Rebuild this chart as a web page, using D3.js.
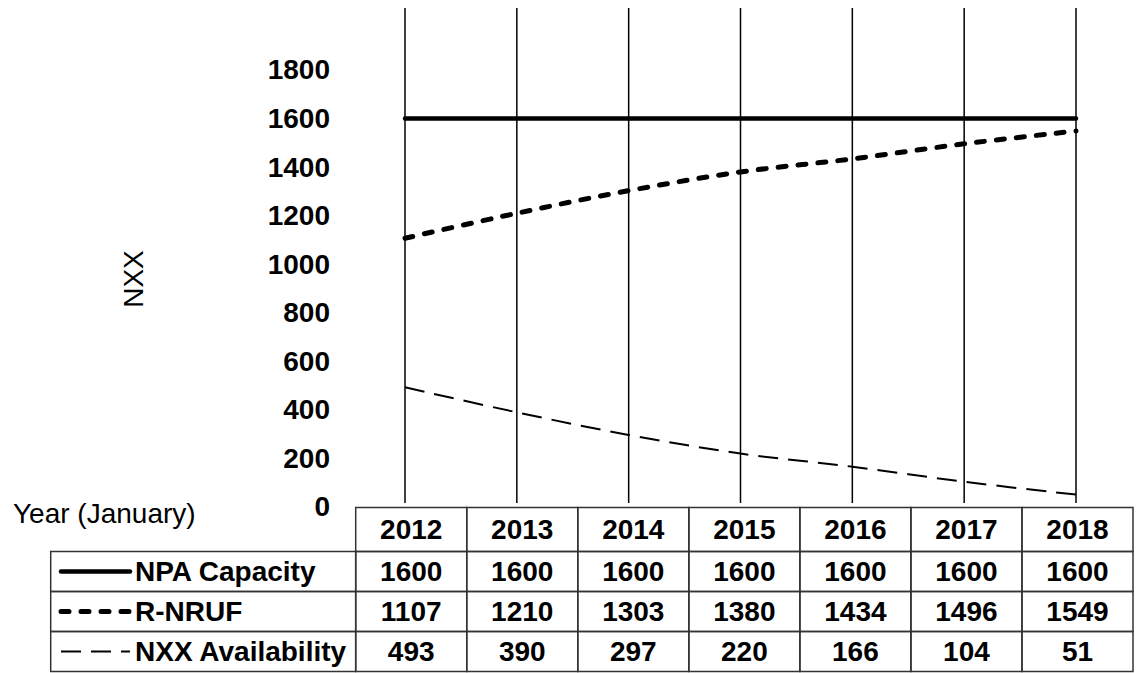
<!DOCTYPE html>
<html>
<head>
<meta charset="utf-8">
<script src="https://cdn.jsdelivr.net/npm/d3@7"></script>
<style>
  body { margin: 0; background: #fff; }
  text { font-family: "Liberation Sans", Arial, sans-serif; fill: #000; }
</style>
</head>
<body>
<div id="chart"></div>
<script>
const years = [2012, 2013, 2014, 2015, 2016, 2017, 2018];
const npaCapacity = [1600, 1600, 1600, 1600, 1600, 1600, 1600];
const rNruf = [1107, 1210, 1303, 1380, 1434, 1496, 1549];
const nxxAvailability = [493, 390, 297, 220, 166, 104, 51];
const yTicks = [0, 200, 400, 600, 800, 1000, 1200, 1400, 1600, 1800];
const seriesNames = ['NPA Capacity', 'R-NRUF', 'NXX Availability'];

const width = 1136;
const height = 673;
const fontSize = '28px';

const series = [
  { name: seriesNames[0], values: npaCapacity, width: 4.5, dash: null, cap: 'round' },
  { name: seriesNames[1], values: rNruf, width: 5, dash: '8,12', cap: 'round' },
  { name: seriesNames[2], values: nxxAvailability, width: 2, dash: '20,10', cap: 'butt' }
];

const svg = d3.select('#chart')
  .append('svg')
  .attr('width', width)
  .attr('height', height);

const x = d3.scalePoint().domain(years).range([405, 1076]);
const y = d3.scaleLinear().domain([0, 1800]).range([507, 70]);

// table columns
const col = d3.scaleBand().domain(years).range([355.7, 1133]);
const headerTop = 507.5;
const headerH = 44;
const rowH = 40;
const legendLeft = 50.7;

// vertical grid lines per year
svg.append('g')
  .selectAll('line')
  .data(years)
  .enter()
  .append('line')
  .attr('x1', (d) => x(d))
  .attr('x2', (d) => x(d))
  .attr('y1', 8)
  .attr('y2', 503)
  .attr('stroke', '#000')
  .attr('stroke-width', 1.5);

// y axis (labels only)
const yAxis = svg.append('g')
  .attr('transform', 'translate(330,0)')
  .call(d3.axisLeft(y).tickValues(yTicks).tickFormat(d3.format('d')).tickSize(0).tickPadding(0));
yAxis.select('.domain').remove();
yAxis.selectAll('text')
  .style('font-family', '"Liberation Sans", Arial, sans-serif')
  .style('font-size', fontSize)
  .style('font-weight', 'bold')
  .attr('fill', '#000');

svg.append('text')
  .attr('transform', 'translate(133,279) rotate(-90)')
  .attr('text-anchor', 'middle')
  .attr('dy', '0.35em')
  .style('font-size', fontSize)
  .text('NXX');

// series lines
const line = d3.line()
  .x((d, i) => x(years[i]))
  .y((d) => y(d))
  .curve(d3.curveCatmullRom);

svg.append('g')
  .selectAll('path')
  .data(series)
  .enter()
  .append('path')
  .attr('d', (d) => line(d.values))
  .attr('fill', 'none')
  .attr('stroke', '#000')
  .attr('stroke-width', (d) => d.width)
  .attr('stroke-dasharray', (d) => d.dash)
  .attr('stroke-linecap', (d) => d.cap);

// data table
const table = svg.append('g');
const border = '#333';

table.append('text')
  .attr('x', 13)
  .attr('y', 523)
  .style('font-size', fontSize)
  .text('Year (January)');

// header cells
table.selectAll('rect.head')
  .data(years)
  .enter()
  .append('rect')
  .attr('class', 'head')
  .attr('x', (d) => col(d))
  .attr('y', headerTop)
  .attr('width', col.bandwidth())
  .attr('height', headerH)
  .attr('fill', 'none')
  .attr('stroke', border)
  .attr('stroke-width', 1.5);

table.selectAll('text.head')
  .data(years)
  .enter()
  .append('text')
  .attr('class', 'head')
  .attr('x', (d) => col(d) + col.bandwidth() / 2)
  .attr('y', headerTop + headerH / 2)
  .attr('dy', '0.35em')
  .attr('text-anchor', 'middle')
  .style('font-size', fontSize)
  .style('font-weight', 'bold')
  .text((d) => d);

const rows = table.selectAll('g.row')
  .data(series)
  .enter()
  .append('g')
  .attr('class', 'row')
  .attr('transform', (d, i) => `translate(0,${headerTop + headerH + i * rowH})`);

// legend cell
rows.append('rect')
  .attr('x', legendLeft)
  .attr('y', 0)
  .attr('width', col(years[0]) - legendLeft)
  .attr('height', rowH)
  .attr('fill', 'none')
  .attr('stroke', border)
  .attr('stroke-width', 1.5);

rows.append('line')
  .attr('x1', 61)
  .attr('x2', 130)
  .attr('y1', rowH / 2)
  .attr('y2', rowH / 2)
  .attr('stroke', '#000')
  .attr('stroke-width', (d) => d.width)
  .attr('stroke-dasharray', (d) => d.dash)
  .attr('stroke-linecap', (d) => d.cap);

rows.append('text')
  .attr('x', 135)
  .attr('y', rowH / 2)
  .attr('dy', '0.35em')
  .style('font-size', fontSize)
  .style('font-weight', 'bold')
  .text((d) => d.name);

// value cells
rows.each(function (s) {
  const g = d3.select(this);
  g.selectAll('rect.val')
    .data(s.values)
    .enter()
    .append('rect')
    .attr('class', 'val')
    .attr('x', (d, i) => col(years[i]))
    .attr('y', 0)
    .attr('width', col.bandwidth())
    .attr('height', rowH)
    .attr('fill', 'none')
    .attr('stroke', border)
    .attr('stroke-width', 1.5);
  g.selectAll('text.val')
    .data(s.values)
    .enter()
    .append('text')
    .attr('class', 'val')
    .attr('x', (d, i) => col(years[i]) + col.bandwidth() / 2)
    .attr('y', rowH / 2)
    .attr('dy', '0.35em')
    .attr('text-anchor', 'middle')
    .style('font-size', fontSize)
    .style('font-weight', 'bold')
    .text((d) => d);
});
</script>
</body>
</html>
